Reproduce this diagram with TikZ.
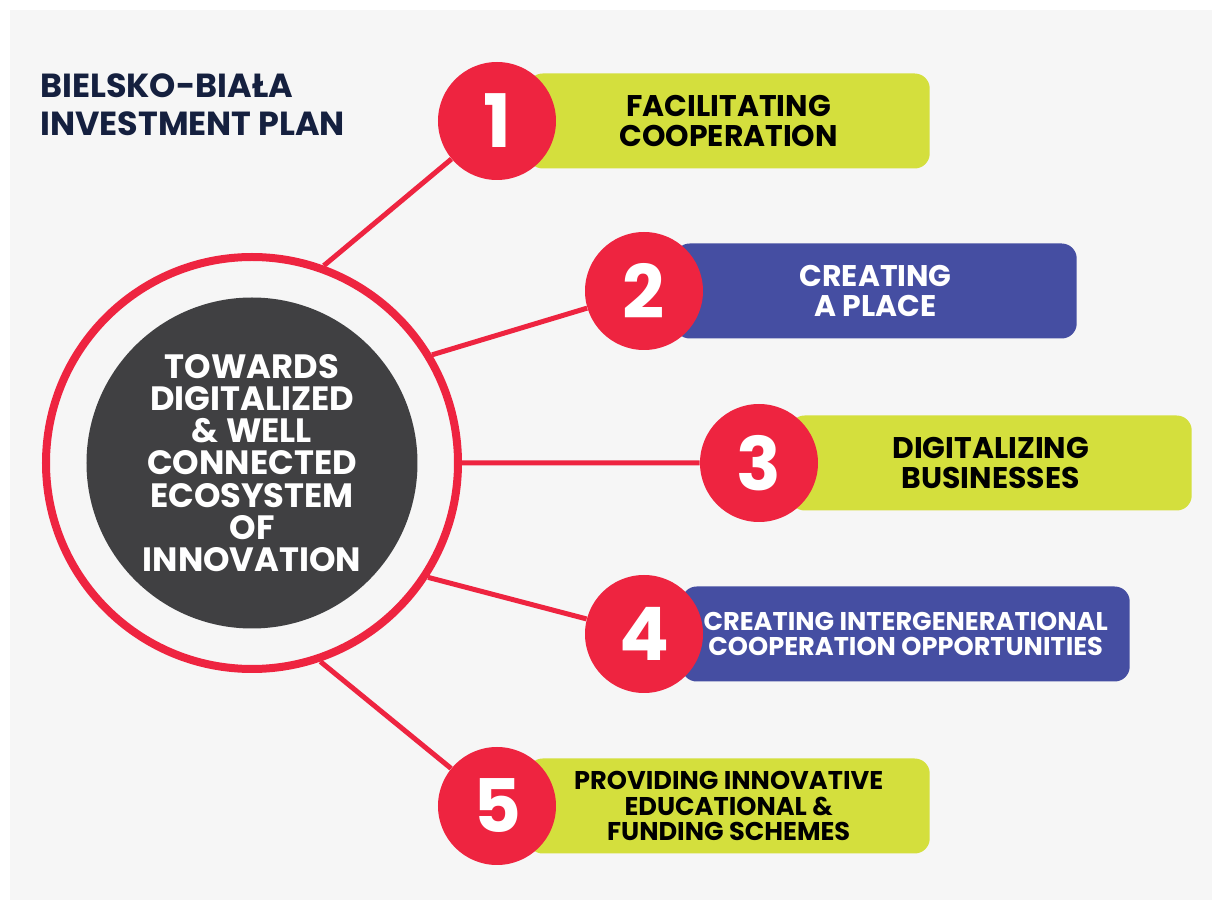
\documentclass[tikz,border=0pt]{standalone}
\usepackage{fontspec}
\setmainfont{Poppins}
\usetikzlibrary{positioning}

\definecolor{plred}{HTML}{EE2440}
\definecolor{pllime}{HTML}{D4DF3D}
\definecolor{plblue}{HTML}{454EA2}
\definecolor{pldark}{HTML}{404042}
\definecolor{plpaper}{HTML}{F6F6F6}
\definecolor{plnavy}{HTML}{15203F}

\pgfdeclarelayer{paper}
\pgfdeclarelayer{boxes}
\pgfsetlayers{paper,boxes,main}

\begin{document}
\begin{tikzpicture}[auto, node distance = 0.4cm,
  every node/.style = {font = \bfseries, align = center, inner sep = 0pt},
  ring/.style = {circle, draw = plred, line width = 0.16cm, minimum size = 8.24cm},
  hub/.style = {circle, fill = pldark, text = white, minimum size = 6.62cm,
    font = \bfseries\fontsize{19.2}{18.3}\selectfont},
  num/.style = {circle, fill = plred, text = white, minimum size = 2.36cm,
    font = \bfseries\fontsize{42}{42}\selectfont},
  limebox/.style = {rounded corners = 0.3cm, fill = pllime, text = black,
    minimum height = 1.9cm, minimum width = 8.04cm,
    font = \bfseries\fontsize{17}{17}\selectfont},
  bluebox/.style = {limebox, fill = plblue, text = white},
  small/.style = {font = \bfseries\fontsize{14.6}{14.3}\selectfont},
  spoke/.style = {draw = plred, line width = 0.1cm}]

  \useasboundingbox (-5.04,-8.84) rectangle (19.28,9.26);
  \begin{pgfonlayer}{paper}
    \fill[plpaper] (-4.84,-8.74) rectangle (19.2,9.06);
  \end{pgfonlayer}

  \node (Ring) at (0,0) [ring] {};
  \node (Hub)  at (0,0) [hub]  {TOWARDS\\DIGITALIZED\\\& WELL\\CONNECTED\\ECOSYSTEM\\OF\\INNOVATION};

  \node (Title) at (-4.24,7.8) [anchor = north west, align = left, text = plnavy,
    font = \bfseries\fontsize{19}{21.8}\selectfont] {BIELSKO-BIAŁA\\INVESTMENT PLAN};

  \node (N1) [num, on grid, above right = 6.84cm and 4.9cm of Hub]  {1};
  \node (N2) [num, on grid, above right = 3.44cm and 7.84cm of Hub] {2};
  \node (N3) [num, on grid, right = 10.14cm of Hub]                 {3};
  \node (N4) [num, on grid, below right = 3.42cm and 7.84cm of Hub] {4};
  \node (N5) [num, on grid, below right = 6.86cm and 4.9cm of Hub]  {5};

  \begin{pgfonlayer}{boxes}
    \node (B1) [limebox, right = -0.58cm of N1] {FACILITATING\\COOPERATION};
    \node (B2) [bluebox, right = -0.58cm of N2] {CREATING\\A PLACE};
    \node (B3) [limebox, right = -0.58cm of N3] {DIGITALIZING\\BUSINESSES};
    \node (B4) [bluebox, small, minimum width = 8.96cm, right = -0.44cm of N4]
      {CREATING INTERGENERATIONAL\\COOPERATION OPPORTUNITIES};
    \node (B5) [limebox, small, right = -0.58cm of N5]
      {PROVIDING INNOVATIVE\\EDUCATIONAL \&\\FUNDING SCHEMES};
  \end{pgfonlayer}

  \draw[spoke] (Ring.70) -- (N1)
               (Ring.31) -- (N2)
               (Ring.0) -- (N3)
               (Ring.-33) -- (N4)
               (Ring.-71) -- (N5);

\end{tikzpicture}
\end{document}
